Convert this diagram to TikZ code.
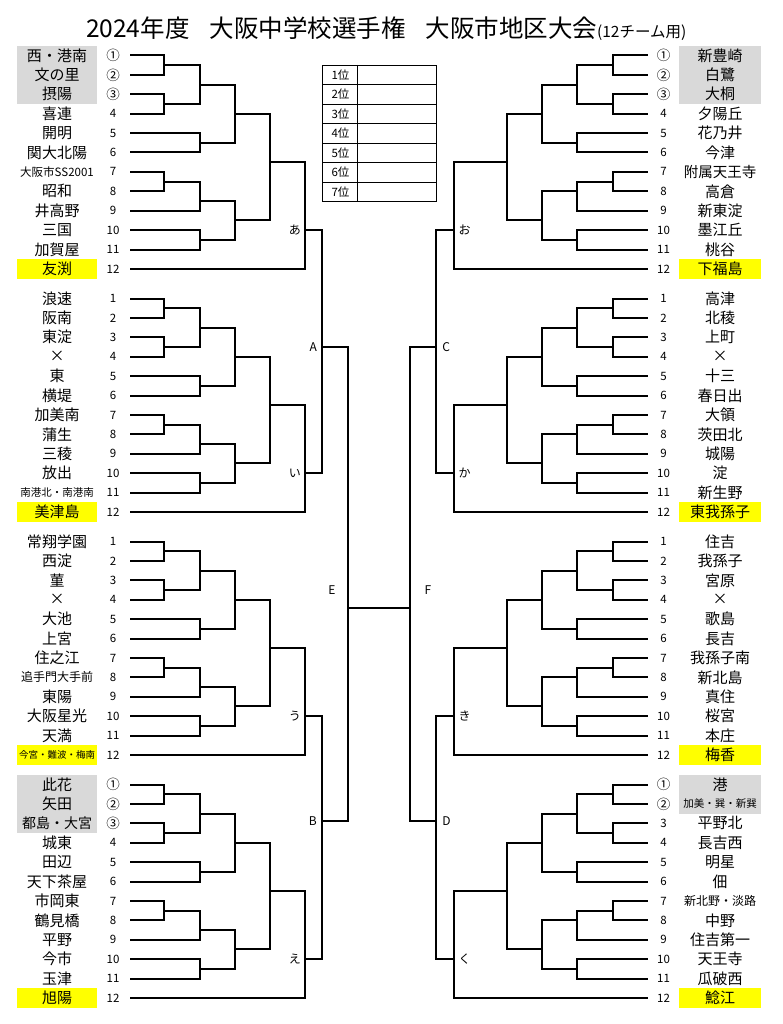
\documentclass[tikz,border=0pt]{standalone}
\usepackage{fontspec}
\setmainfont{Noto Sans CJK JP}
\definecolor{seedgray}{HTML}{D9D9D9}
\definecolor{hiyellow}{HTML}{FFFF00}

\newcommand\fsz[1]{\fontsize{#1}{#1}\selectfont}
\newcommand\rowy[1]{\ytop+(#1-1)*19.4}

% x positions of the rounds, for each half
\newcommand\setleft{\def\lvS{130}\def\lvA{164.3}\def\lvB{200}\def\lvC{235}\def\lvD{270}\def\lvE{305}%
  \def\lvN{57}\def\lvT{113}\def\lvG{17}\def\lvH{97.3}\def\nine{8.5}\def\tagside{east}\def\tagshift{-4pt}}
\newcommand\setright{\def\lvS{647.5}\def\lvA{612.7}\def\lvB{577.3}\def\lvC{541.7}\def\lvD{506.7}\def\lvE{454.3}%
  \def\lvN{720}\def\lvT{663.5}\def\lvG{679.3}\def\lvH{760.7}\def\nine{8}\def\tagside{west}\def\tagshift{4pt}}

% one block of 12 teams: prefix, y of row 1, seeds, tag, names
\newcommand\block[5]{%
  \def\ytop{#2}%
  \ifnum#3>0 \fill[seedgray] (\lvG,{\rowy{0.5}}) rectangle (\lvH,{\rowy{#3.5}});\fi
  \fill[hiyellow] (\lvG,{\rowy{11.5}}) rectangle (\lvH,{\rowy{12.5}});
  \foreach \t [count=\k] in {#5} {
    \node[team] (#1-t\k) at (\lvN,{\rowy{\k}}) {\t};
    \node[teamno] (#1-n\k) at (\lvT,{\rowy{\k}}) {\ifnum\k>#3 \k\else{\fsz{13.5}\ifcase\k\or ①\or ②\or ③\fi}\fi};
    \coordinate (#1-\k) at (\lvS,{\rowy{\k}});
  }
  \coordinate (#1-a) at (\lvA,{\rowy{1.5}});
  \coordinate (#1-b) at (\lvA,{\rowy{3.5}});
  \coordinate (#1-c) at (\lvA,{\rowy{7.5}});
  \coordinate (#1-d) at (\lvB,{\rowy{2.5}});
  \coordinate (#1-e) at (\lvB,{\rowy{5.5}});
  \coordinate (#1-f) at (\lvB,{\rowy{\nine}});
  \coordinate (#1-g) at (\lvB,{\rowy{10.5}});
  \coordinate (#1-h) at (\lvC,{\rowy{4}});
  \coordinate (#1-i) at (\lvC,{\rowy{9.5}});
  \coordinate (#1-j) at (\lvD,{\rowy{6.5}});
  \coordinate (#1-w) at (\lvE,{\rowy{10}});
  \draw[bline] (#1-1) -| (#1-a) |- (#1-2);
  \draw[bline] (#1-3) -| (#1-b) |- (#1-4);
  \draw[bline] (#1-7) -| (#1-c) |- (#1-8);
  \draw[bline] (#1-a) -| (#1-d) |- (#1-b);
  \draw[bline] (#1-5) -| (#1-e) |- (#1-6);
  \draw[bline] (#1-c) -| (#1-f) |- (#1-9);
  \draw[bline] (#1-10) -| (#1-g) |- (#1-11);
  \draw[bline] (#1-d) -| (#1-h) |- (#1-e);
  \draw[bline] (#1-f) -| (#1-i) |- (#1-g);
  \draw[bline] (#1-h) -| (#1-j) |- (#1-i);
  \draw[bline] (#1-j) -| (#1-w) |- (#1-12);
  \node[tag, anchor=\tagside, xshift=\tagshift] (#1-tag) at (#1-w) {#4};
}

\tikzset{
  team/.style={font=\fsz{15}, inner sep=0pt},
  teamno/.style={font=\fsz{11.5}, inner sep=0pt},
  tag/.style={font=\fsz{12}, inner sep=0pt},
  bline/.style={line width=2pt, line join=miter},
}

\begin{document}
\begin{tikzpicture}[x=1pt, y=-1pt]
    \useasboundingbox (0,0) rectangle (783,1024);

    \node[anchor=west, inner sep=0pt, font=\fsz{24.5}] (title) at (86,29)
        {2024年度\hspace{20pt}大阪中学校選手権\hspace{20pt}大阪市地区大会{\fsz{15.5}(12チーム用)}};

    % ranking table
    \draw[line width=0.9pt] (322.3,65) rectangle (436.7,201.7);
    \draw[line width=0.9pt] (357.7,65) -- (357.7,201.7);
    \foreach \r in {1,...,7} {
        \ifnum\r<7 \draw[line width=0.9pt] (322.3,{65+\r*19.53}) -- (436.7,{65+\r*19.53});\fi
        \node[teamno] (rank\r) at (340.5,{65+(\r-0.5)*19.53}) {\r 位};
    }

    % left half
    \setleft
    \block{la}{55.5}{3}{あ}{西・港南,文の里,摂陽,喜連,開明,関大北陽,{\fsz{11.5}大阪市SS2001},昭和,井高野,三国,加賀屋,友渕}
    \block{lb}{298.5}{0}{い}{浪速,阪南,東淀,×,東,横堤,加美南,蒲生,三稜,放出,{\fsz{10.5}南港北・南港南},美津島}
    \block{lc}{541.5}{0}{う}{常翔学園,西淀,菫,×,大池,上宮,住之江,{\fsz{12}追手門大手前},東陽,大阪星光,天満,{\fsz{9.5}今宮・難波・梅南}}
    \block{ld}{784.5}{3}{え}{此花,矢田,{\fsz{14}都島・大宮},城東,田辺,天下茶屋,市岡東,鶴見橋,平野,今市,玉津,旭陽}

    % right half
    \setright
    \block{ra}{55.5}{3}{お}{新豊崎,白鷺,大桐,夕陽丘,花乃井,今津,{\fsz{14.5}附属天王寺},高倉,新東淀,墨江丘,桃谷,下福島}
    \block{rb}{298.5}{0}{か}{高津,北稜,上町,×,十三,春日出,大領,茨田北,城陽,淀,新生野,東我孫子}
    \block{rc}{541.5}{0}{き}{住吉,我孫子,宮原,×,歌島,長吉,我孫子南,新北島,真住,桜宮,本庄,梅香}
    \block{rd}{784.5}{2}{く}{港,{\fsz{10.5}加美・巽・新巽},平野北,長吉西,明星,佃,{\fsz{12}新北野・淡路},中野,住吉第一,天王寺,瓜破西,鯰江}

    % semi-finals and final
    \coordinate (A) at (322,347);
    \coordinate (B) at (322,821);
    \coordinate (C) at (436.2,347);
    \coordinate (D) at (436.2,821);
    \coordinate (E) at (348.3,608);
    \coordinate (F) at (410.3,608);
    \draw[bline] (la-w) -| (A) |- (lb-w);
    \draw[bline] (lc-w) -| (B) |- (ld-w);
    \draw[bline] (ra-w) -| (C) |- (rb-w);
    \draw[bline] (rc-w) -| (D) |- (rd-w);
    \draw[bline] (A) -| (E) |- (B);
    \draw[bline] (C) -| (F) |- (D);
    \draw[bline] (E) -- (F);

    \node[tag, anchor=east, xshift=-5pt] (tagA) at (A) {A};
    \node[tag, anchor=east, xshift=-5pt] (tagB) at (B) {B};
    \node[tag, anchor=west, xshift=6pt] (tagC) at (C) {C};
    \node[tag, anchor=west, xshift=6pt] (tagD) at (D) {D};
    \node[tag] (tagE) at (332,590) {E};
    \node[tag] (tagF) at (428,590) {F};
\end{tikzpicture}
\end{document}
